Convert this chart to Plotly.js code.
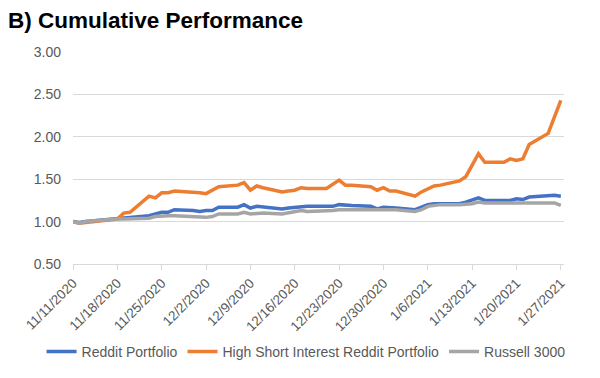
<!DOCTYPE html>
<html>
<head>
<meta charset="utf-8">
<script src="https://cdn.plot.ly/plotly-3.0.1.min.js"></script>
<style>
  html, body { margin: 0; padding: 0; background: #ffffff; }
  #chart { width: 600px; height: 378px; }
</style>
</head>
<body>
<div id="chart"></div>
<script>
const dates = [
  "2020-11-11","2020-11-12","2020-11-13","2020-11-16","2020-11-17","2020-11-18","2020-11-19","2020-11-20",
  "2020-11-23","2020-11-24","2020-11-25","2020-11-26","2020-11-27","2020-11-30","2020-12-01","2020-12-02",
  "2020-12-03","2020-12-04","2020-12-07","2020-12-08","2020-12-09","2020-12-10","2020-12-11","2020-12-14",
  "2020-12-15","2020-12-16","2020-12-17","2020-12-18","2020-12-21","2020-12-22","2020-12-23","2020-12-24",
  "2020-12-25","2020-12-28","2020-12-29","2020-12-30","2020-12-31","2021-01-01","2021-01-04","2021-01-05",
  "2021-01-06","2021-01-07","2021-01-08","2021-01-11","2021-01-12","2021-01-13","2021-01-14","2021-01-15",
  "2021-01-18","2021-01-19","2021-01-20","2021-01-21","2021-01-22","2021-01-25","2021-01-26","2021-01-27"
];

const redditPortfolio = [
  1.00,0.99,1.00,1.02,1.03,1.04,1.05,1.05,
  1.07,1.09,1.11,1.11,1.14,1.13,1.12,1.13,
  1.13,1.17,1.17,1.20,1.16,1.18,1.17,1.15,
  1.16,1.17,1.18,1.18,1.18,1.18,1.20,1.19,
  1.19,1.18,1.15,1.17,1.16,1.16,1.14,1.17,
  1.20,1.21,1.21,1.21,1.23,1.25,1.28,1.25,
  1.25,1.25,1.27,1.26,1.29,1.30,1.31,1.30
];

const highShortInterest = [
  1.00,0.98,0.99,1.01,1.02,1.03,1.10,1.11,
  1.30,1.28,1.34,1.34,1.36,1.35,1.34,1.33,
  1.37,1.41,1.43,1.46,1.37,1.42,1.40,1.35,
  1.36,1.37,1.40,1.39,1.39,1.44,1.49,1.43,
  1.43,1.41,1.37,1.40,1.36,1.36,1.30,1.35,
  1.39,1.42,1.43,1.48,1.53,1.67,1.80,1.70,
  1.70,1.74,1.72,1.74,1.91,2.04,2.23,2.43
];

const russell3000 = [
  1.00,0.98,1.00,1.02,1.03,1.03,1.03,1.03,
  1.04,1.06,1.07,1.07,1.07,1.06,1.06,1.05,
  1.06,1.09,1.09,1.11,1.09,1.10,1.10,1.09,
  1.10,1.12,1.13,1.12,1.12,1.13,1.14,1.14,
  1.14,1.14,1.13,1.14,1.14,1.14,1.12,1.14,
  1.18,1.19,1.20,1.20,1.20,1.21,1.23,1.22,
  1.22,1.22,1.23,1.22,1.23,1.23,1.22,1.19
];

const seriesNames = ["Reddit Portfolio", "High Short Interest Reddit Portfolio", "Russell 3000"];
const seriesColors = ["#4472C4", "#ED7D31", "#A5A5A5"];
const seriesValues = [redditPortfolio, highShortInterest, russell3000];

const traces = seriesValues.map((vals, i) => ({
  type: "scatter",
  mode: "lines",
  x: dates,
  y: vals,
  name: seriesNames[i],
  line: { color: seriesColors[i], width: 3.5, shape: "linear" },
  hoverinfo: "x+y+name"
}));

const layout = {
  width: 600,
  height: 378,
  paper_bgcolor: "#ffffff",
  plot_bgcolor: "#ffffff",
  margin: { l: 73, r: 36, t: 52, b: 113 },
  title: {
    text: "<b>B) Cumulative Performance</b>",
    font: { family: "Liberation Sans, Arial, sans-serif", size: 22.5, color: "#000000" },
    x: 0.0133, xanchor: "left", xref: "container",
    y: 0.948, yanchor: "middle", yref: "container"
  },
  font: { family: "Liberation Sans, Arial, sans-serif", color: "#595959", size: 14 },
  xaxis: {
    type: "date",
    range: ["2020-11-11", "2021-01-27 12:00"],
    tick0: "2020-11-11",
    dtick: 7 * 24 * 3600 * 1000,
    tickformat: "%-m/%-d/%Y",
    tickangle: -45,
    ticks: "outside",
    ticklen: 5,
    tickcolor: "#d9d9d9",
    tickfont: { size: 13.5, color: "#595959" },
    showgrid: false,
    showline: true,
    linecolor: "#d9d9d9",
    linewidth: 1,
    zeroline: false
  },
  yaxis: {
    range: [0.5, 3.0],
    dtick: 0.5,
    tick0: 0.5,
    tickformat: ".2f",
    tickfont: { size: 14, color: "#595959" },
    showgrid: true,
    gridcolor: "#d9d9d9",
    gridwidth: 1,
    zeroline: false,
    showline: false,
    ticks: "",
    ticklabelstandoff: 11
  },
  showlegend: true,
  legend: {
    orientation: "h",
    xref: "paper",
    yref: "paper",
    x: -0.064,
    xanchor: "left",
    y: -0.408,
    yanchor: "middle",
    font: { size: 14, color: "#595959" },
    traceorder: "normal",
    itemwidth: 30
  }
};

Plotly.newPlot("chart", traces, layout, { displayModeBar: false, staticPlot: true });
</script>
</body>
</html>
